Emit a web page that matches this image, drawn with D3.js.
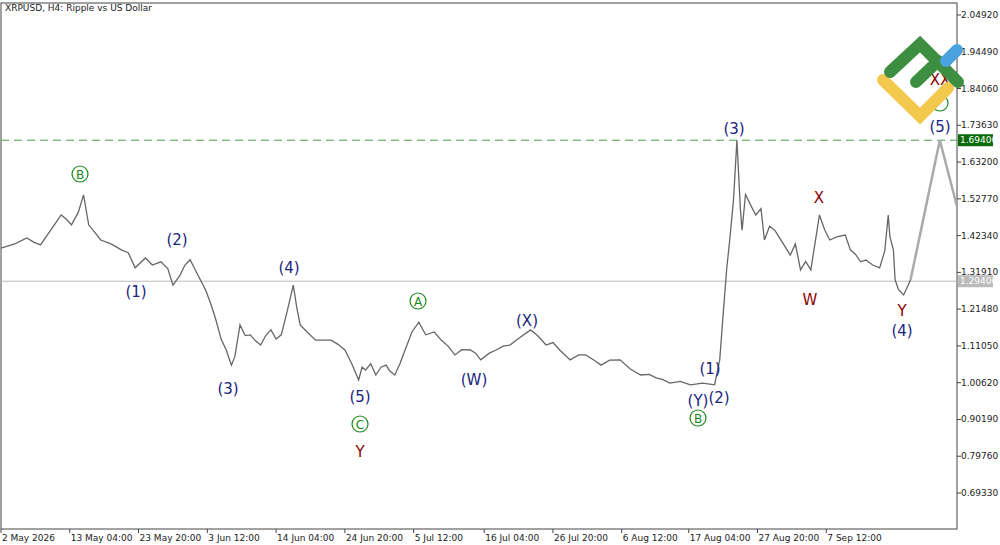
<!DOCTYPE html><html><head><meta charset="utf-8"><script src="https://cdn.jsdelivr.net/npm/d3@7"></script>
<style>body{margin:0;background:#fff}text{font-family:Tahoma,"DejaVu Sans",sans-serif}</style></head><body><svg id="c" width="1000" height="545"></svg>
<script>
// [bar index, price]
const pricePath=[[0,1.388],[8,1.400],[15,1.417],[19,1.405],[23,1.397],[29,1.440],[35,1.482],[38,1.470],[41,1.454],[45,1.490],[48,1.539],[51,1.454],[55,1.430],[58,1.411],[64,1.400],[70,1.383],[74,1.375],[78,1.332],[84,1.360],[88,1.340],[93,1.349],[97,1.330],[100,1.283],[104,1.310],[107,1.340],[110,1.355],[113,1.326],[119,1.269],[122,1.230],[125,1.184],[128,1.130],[131,1.099],[134,1.056],[136,1.080],[139,1.170],[142,1.140],[145,1.142],[148,1.125],[151,1.113],[154,1.140],[157,1.156],[160,1.130],[163,1.142],[166,1.200],[170,1.283],[172,1.220],[174,1.170],[178,1.150],[183,1.127],[187,1.127],[192,1.127],[196,1.115],[200,1.099],[204,1.060],[208,1.014],[210,1.050],[212,1.042],[215,1.060],[218,1.028],[221,1.050],[224,1.056],[226,1.040],[229,1.028],[232,1.060],[235,1.099],[239,1.150],[243,1.178],[245,1.160],[247,1.142],[252,1.150],[256,1.127],[260,1.110],[264,1.085],[268,1.100],[273,1.099],[276,1.090],[279,1.071],[284,1.090],[288,1.099],[292,1.110],[296,1.113],[302,1.135],[308,1.156],[312,1.140],[317,1.113],[321,1.120],[325,1.099],[328,1.085],[331,1.071],[336,1.085],[340,1.085],[345,1.070],[349,1.056],[354,1.070],[360,1.071],[366,1.045],[372,1.028],[377,1.030],[381,1.020],[385,1.015],[389,1.005],[395,1.010],[401,1.000],[408,1.005],[415,1.000],[418,1.071],[420,1.200],[422,1.326],[424,1.420],[426,1.524],[428,1.694],[430,1.500],[431,1.439],[433,1.540],[436,1.510],[439,1.482],[442,1.500],[444,1.411],[447,1.450],[450,1.439],[455,1.400],[459,1.368],[462,1.400],[465,1.326],[468,1.350],[471,1.326],[476,1.482],[479,1.440],[482,1.411],[486,1.420],[491,1.425],[494,1.383],[497,1.370],[500,1.349],[503,1.354],[507,1.340],[511,1.332],[514,1.380],[516,1.482],[517,1.420],[519,1.383],[520,1.298],[522,1.270],[525,1.255],[529,1.298]];
const projBars=[529,546,556], projPrices=[1.298,1.694,1.506];
const priceTicks=[2.04920,1.94490,1.84060,1.73630,1.63200,1.52770,1.42340,1.31910,1.21480,1.11050,1.00620,0.90190,0.79760,0.69330];
const timeTicks=[0,40,80,120,160,200,240,281,321,361,400,440,480];
const timeLabels=["2 May 2026","13 May 04:00","23 May 20:00","3 Jun 12:00","14 Jun 04:00","24 Jun 20:00","5 Jul 12:00","16 Jul 04:00","26 Jul 20:00","6 Aug 12:00","17 Aug 04:00","27 Aug 20:00","7 Sep 12:00"];
const labels=[["B",80,174,"c"],["(2)",177,240,"b"],["(1)",136,292,"b"],["(3)",228,389,"b"],["(4)",289,268,"b"],["(5)",360,397,"b"],["C",360,424,"c"],["Y",360,452,"r"],["A",418,301,"c"],["(W)",474,380,"b"],["(X)",527,321,"b"],["(Y)",698,401,"b"],["(2)",719,398,"b"],["(1)",710,369,"b"],["B",698,418,"c"],["(3)",734,129,"b"],["X",819,198,"r"],["W",810,300,"r"],["Y",902,311,"r"],["(4)",902,331,"b"],["(5)",940,127,"b"],["",940,103,"c"],["XX",940,80,"r"]];
const svg=d3.select("#c"),L=1,R=957,T=3,B=529;
const x=d3.scaleLinear().domain([0,556]).range([L,R]);
const y=d3.scaleLinear().domain([0.6933,2.0492]).range([493,15]);
svg.append("rect").attr("x",L).attr("y",T).attr("width",R-L).attr("height",B-T).attr("fill","none").attr("stroke","#444");
priceTicks.forEach(p=>{svg.append("line").attr("x1",R).attr("x2",R+4).attr("y1",y(p)).attr("y2",y(p)).attr("stroke","#444");
svg.append("text").attr("x",R+4).attr("y",y(p)+3).attr("font-size",9).attr("fill","#222").text(p.toFixed(5));});
timeTicks.forEach((t,i)=>{svg.append("line").attr("x1",x(t)).attr("x2",x(t)).attr("y1",B).attr("y2",B+4).attr("stroke","#444");
svg.append("text").attr("x",x(t)+1).attr("y",B+12).attr("font-size",9).attr("fill","#222").text(timeLabels[i]);});
svg.append("line").attr("x1",L).attr("x2",R).attr("y1",y(1.694)).attr("y2",y(1.694)).attr("stroke","#4a9e4a").attr("stroke-dasharray","8,5");
svg.append("line").attr("x1",L).attr("x2",R).attr("y1",y(1.294)).attr("y2",y(1.294)).attr("stroke","#bbb");
svg.append("rect").attr("x",R+1).attr("y",y(1.694)-6).attr("width",35).attr("height",12).attr("fill","#0a6b0a");
svg.append("text").attr("x",R+3).attr("y",y(1.694)+3).attr("font-size",9).attr("fill","#fff").text("1.69400");
svg.append("rect").attr("x",R+1).attr("y",y(1.294)-6).attr("width",35).attr("height",12).attr("fill","#bbb");
svg.append("text").attr("x",R+3).attr("y",y(1.294)+3).attr("font-size",9).attr("fill","#fff").text("1.29400");
const line=d3.line().x(d=>x(d[0])).y(d=>y(d[1]));
svg.append("path").attr("d",line(pricePath)).attr("fill","none").attr("stroke","#666").attr("stroke-width",1.3);
svg.append("path").attr("d",line(projBars.map((b,i)=>[b,projPrices[i]]))).attr("fill","none").attr("stroke","#aaa").attr("stroke-width",2.5);
svg.append("text").attr("x",5).attr("y",11).attr("font-size",9).attr("fill","#222").text("XRPUSD, H4:  Ripple vs US Dollar");
labels.forEach(([t,lx,ly,k])=>{
 if(k==="c"){svg.append("circle").attr("cx",lx).attr("cy",ly).attr("r",8).attr("fill","none").attr("stroke","#1a8a1a").attr("stroke-width",1.2);
  svg.append("text").attr("x",lx).attr("y",ly+4.5).attr("text-anchor","middle").attr("font-size",12).attr("fill","#1a8a1a").text(t);}
 else svg.append("text").attr("x",lx).attr("y",ly+5).attr("text-anchor","middle").attr("font-size",15).attr("fill",k==="r"?"#8b0000":"#1a237e").text(t);});
const g=svg.append("g").attr("stroke-linecap","round").attr("fill","none").attr("stroke-width",12);
g.append("path").attr("d","M883,80 L920,116 L948,88").attr("stroke","#f2c94c");
g.append("path").attr("d","M890,72 L920,44 L958,82").attr("stroke","#3e8e41");
g.append("path").attr("d","M916,82 L938,61").attr("stroke","#3e8e41");
g.append("path").attr("d","M946,61 L957,50").attr("stroke","#4aa3df");
</script></body></html>
